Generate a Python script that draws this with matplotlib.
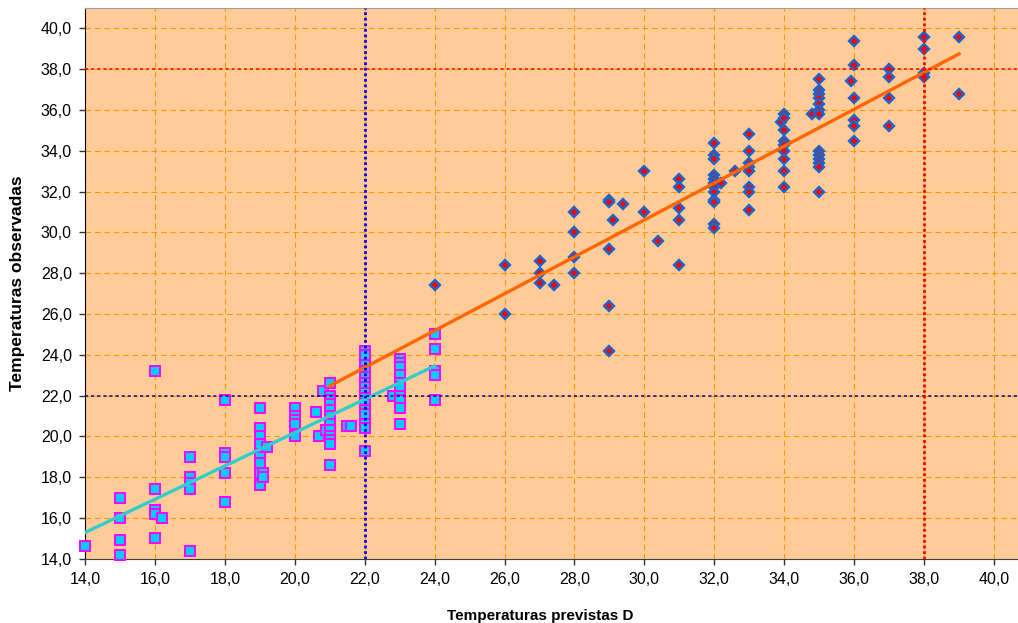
import matplotlib
matplotlib.use("Agg")
from matplotlib import pyplot as plt
from matplotlib import rcParams
from matplotlib.ticker import FuncFormatter, MultipleLocator

rcParams["font.family"] = ["Liberation Sans", "DejaVu Sans"]
rcParams["font.size"] = 11
rcParams["xtick.labelsize"] = 11.5
rcParams["ytick.labelsize"] = 11.5

# squares series (cool days): predicted D vs observed
sq_x = [14,
        15, 15, 15, 15,
        16, 16, 16, 16, 16, 16.2,
        17, 17, 17, 17, 17,
        18, 18, 18, 18, 18,
        19, 19, 19, 19, 19, 19, 19, 19, 19.1, 19.1, 19.2,
        20, 20, 20, 20, 20, 20.6, 20.7, 20.8, 20.9,
        21, 21, 21, 21, 21, 21, 21, 21, 21, 21, 21, 21, 21.5, 21.6,
        22, 22, 22, 22, 22, 22, 22, 22, 22, 22, 22, 22, 22, 22, 22,
        22.8,
        23, 23, 23, 23, 23, 23, 23, 23, 23, 23,
        24, 24, 24, 24, 24]
sq_y = [14.6,
        17.0, 16.0, 14.9, 14.2,
        23.2, 17.4, 16.4, 16.2, 15.0, 16.0,
        19.0, 18.0, 17.7, 17.4, 14.4,
        21.8, 19.2, 19.0, 18.2, 16.8,
        21.4, 20.4, 20.0, 19.6, 19.0, 18.7, 18.2, 17.6, 18.2, 18.0, 19.5,
        21.4, 21.0, 20.8, 20.6, 20.0, 21.2, 20.0, 22.2, 20.3,
        22.6, 22.0, 21.8, 21.6, 21.3, 21.0, 20.6, 20.3, 20.0, 19.8, 19.6, 18.6, 20.5, 20.5,
        24.2, 24.0, 23.5, 23.2, 22.9, 22.6, 22.4, 22.1, 21.9, 21.6, 21.3, 21.1, 20.6, 20.4, 19.3,
        22.0,
        23.8, 23.6, 23.4, 23.0, 22.6, 22.4, 22.0, 21.8, 21.4, 20.6,
        25.0, 24.3, 23.2, 23.0, 21.8]

# diamonds series (hot days)
dm_x = [24,
        26, 26,
        27, 27, 27, 27.4,
        28, 28, 28, 28,
        29, 29, 29, 29, 29, 29.1, 29.4,
        30, 30, 30.4,
        31, 31, 31, 31, 31,
        32, 32, 32, 32, 32, 32, 32, 32, 32, 32, 32, 32, 32.2, 32.6,
        33, 33, 33, 33, 33, 33, 33, 33,
        33.9, 34, 34, 34, 34, 34, 34, 34, 34, 34, 34.8,
        35, 35, 35, 35, 35, 35, 35, 35, 35, 35, 35, 35, 35, 35.9,
        36, 36, 36, 36, 36, 36,
        37, 37, 37, 37,
        38, 38, 38, 38,
        39, 39]
dm_y = [27.4,
        28.4, 26.0,
        28.6, 28.0, 27.5, 27.4,
        31.0, 30.0, 28.8, 28.0,
        31.6, 31.5, 29.2, 26.4, 24.2, 30.6, 31.4,
        33.0, 31.0, 29.6,
        32.6, 32.2, 31.2, 30.6, 28.4,
        34.4, 33.8, 33.6, 32.8, 32.6, 32.4, 32.2, 32.0, 31.6, 31.5, 30.4, 30.2, 32.4, 33.0,
        34.8, 34.0, 33.4, 33.2, 33.0, 32.2, 32.0, 31.1,
        35.4, 35.8, 35.6, 35.0, 34.5, 34.3, 34.0, 33.6, 33.0, 32.2, 35.8,
        37.5, 37.0, 36.8, 36.6, 36.3, 36.0, 35.8, 34.0, 33.8, 33.6, 33.4, 33.2, 32.0, 37.4,
        39.4, 38.2, 36.6, 35.5, 35.2, 34.5,
        38.0, 37.6, 36.6, 35.2,
        39.6, 39.0, 37.8, 37.6,
        39.6, 36.8]

# linear trend lines (end points)
trend_hot_x = [21, 39]
trend_hot_y = [22.47, 38.75]
trend_cool_x = [14, 24]
trend_cool_y = [15.28, 23.45]

# threshold lines
low_threshold = 22
high_threshold = 38


def comma(v, pos):
    return f"{v:.1f}".replace(".", ",")


def plot():
    fig = plt.figure(figsize=(10.18, 6.23), dpi=100)
    ax = fig.add_axes([85 / 1018, 64.3 / 623, 944 / 1018, 550.7 / 623])
    ax.set_facecolor("#ffcc99")

    ax.set_xlim(14, 41)
    ax.set_ylim(14, 41)
    ax.xaxis.set_major_locator(MultipleLocator(2))
    ax.yaxis.set_major_locator(MultipleLocator(2))
    ax.xaxis.set_major_formatter(FuncFormatter(comma))
    ax.yaxis.set_major_formatter(FuncFormatter(comma))
    ax.set_axisbelow(True)
    ax.grid(True, color="#ff9900", linestyle=(0, (5, 3.5)), linewidth=0.8)
    ax.tick_params(direction="out", length=4.5, width=1, colors="#333333",
                   labelcolor="black", pad=5)
    ax.tick_params(axis="y", pad=5)

    ax.spines["left"].set_color("black")
    ax.spines["bottom"].set_color("#404040")
    ax.spines["top"].set_color("#a0a0a0")
    ax.spines["right"].set_visible(False)

    ax.plot(dm_x, dm_y, linestyle="none", marker="D", markersize=5.0,
            markerfacecolor="#ff0000", markeredgecolor="#1a66cc",
            markeredgewidth=1.7, clip_on=False, zorder=3)
    ax.plot(sq_x, sq_y, linestyle="none", marker="s", markersize=6.6,
            markerfacecolor="#00ccff", markeredgecolor="#ff00ff",
            markeredgewidth=1.4, clip_on=False, zorder=4)

    ax.plot(trend_hot_x, trend_hot_y, color="#ff6600", linewidth=2.4, zorder=5)
    ax.plot(trend_cool_x, trend_cool_y, color="#33cccc", linewidth=2.4, zorder=5)

    ax.axhline(high_threshold, color="#ff0000", linestyle=(0, (2, 2)),
               linewidth=1.1, zorder=6)
    ax.axhline(low_threshold, color="#000099", linestyle=(0, (2, 2)),
               linewidth=1.1, zorder=6)
    ax.axvline(low_threshold, color="#0000ff", linestyle=(0, (1, 1)),
               linewidth=2.0, zorder=6)
    ax.axvline(high_threshold, color="#ff0000", linestyle=(0, (1, 1)),
               linewidth=2.0, zorder=6)

    ax.set_xlabel("Temperaturas previstas D", fontweight="bold", fontsize=11)
    ax.set_ylabel("Temperaturas observadas", fontweight="bold", fontsize=12.5)
    ax.xaxis.set_label_coords(0.482, -0.092)
    ax.yaxis.set_label_coords(-0.0636, 0.5)

    fig.savefig("out.png", dpi=100)


def main():
    plot()


if __name__ == "__main__":
    main()
